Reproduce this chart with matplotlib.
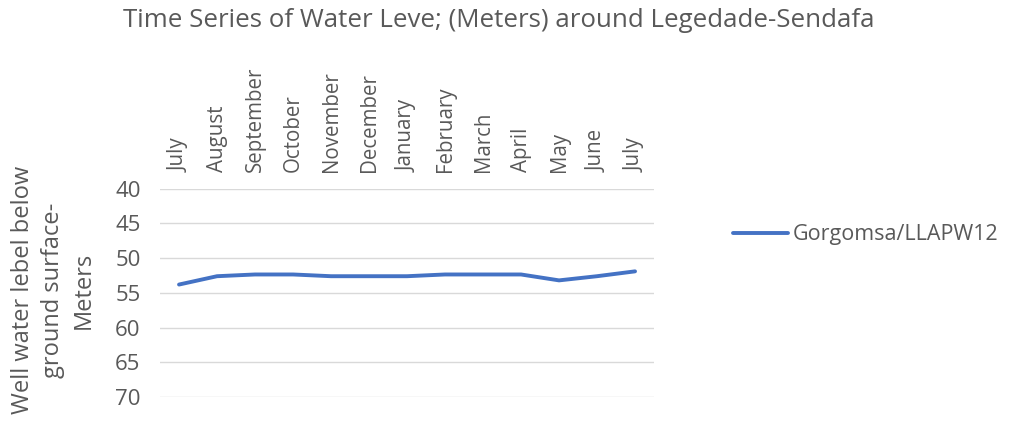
import matplotlib
matplotlib.use("Agg")
import matplotlib.pyplot as plt

months = ["July", "August", "September", "October", "November", "December",
          "January", "February", "March", "April", "May", "June", "July"]
water_level = [53.8, 52.6, 52.35, 52.35, 52.6, 52.6, 52.6, 52.35, 52.35, 52.35,
               53.2, 52.6, 51.9]
y_ticks = [40, 45, 50, 55, 60, 65, 70]
series_name = "Gorgomsa/LLAPW12"

text_color = "#595959"
line_color = "#4472C4"
font = ["Open Sans", "DejaVu Sans"]

fig = plt.figure(figsize=(10.09, 4.26), dpi=100)
ax = fig.add_axes([0.1586, 0.068, 0.4896, 0.489])

x = list(range(len(months)))
ax.plot(x, water_level, color=line_color, linewidth=2.8, solid_capstyle="round",
        label=series_name)

ax.set_xlim(-0.5, len(months) - 0.5)
ax.set_ylim(70, 40)
ax.set_yticks(y_ticks)
ax.set_yticklabels([str(v) for v in y_ticks], fontsize=16, color=text_color,
                   family=font)
ax.set_xticks(x)
ax.set_xticklabels(months, rotation=90, fontsize=14.8, color=text_color,
                   family=font)
ax.xaxis.tick_top()
ax.tick_params(axis="x", length=0, pad=12)
ax.tick_params(axis="y", length=0, pad=14)
ax.grid(axis="y", color="#D9D9D9", linewidth=1)
ax.set_axisbelow(True)
for s in ax.spines.values():
    s.set_visible(False)

fig.text(53 / 1009, 1 - 290 / 426,
         "Well water lebel below\nground surface-\nMeters",
         rotation=90, ha="center", va="center", multialignment="center",
         fontsize=17, color=text_color, family=font, linespacing=1.35)

fig.text(0.4945, 1 - 27 / 426,
         "Time Series of Water Leve; (Meters) around Legedade-Sendafa",
         ha="center", va="baseline", fontsize=18.6, color=text_color,
         family=font)

leg = ax.legend(loc="center left", bbox_to_anchor=(1.160, 0.778), frameon=False,
                prop={"family": font, "size": 15.5}, handlelength=2.56,
                handletextpad=0.23, borderpad=0, borderaxespad=0)
for t in leg.get_texts():
    t.set_color(text_color)

fig.savefig("out.png", dpi=100)
